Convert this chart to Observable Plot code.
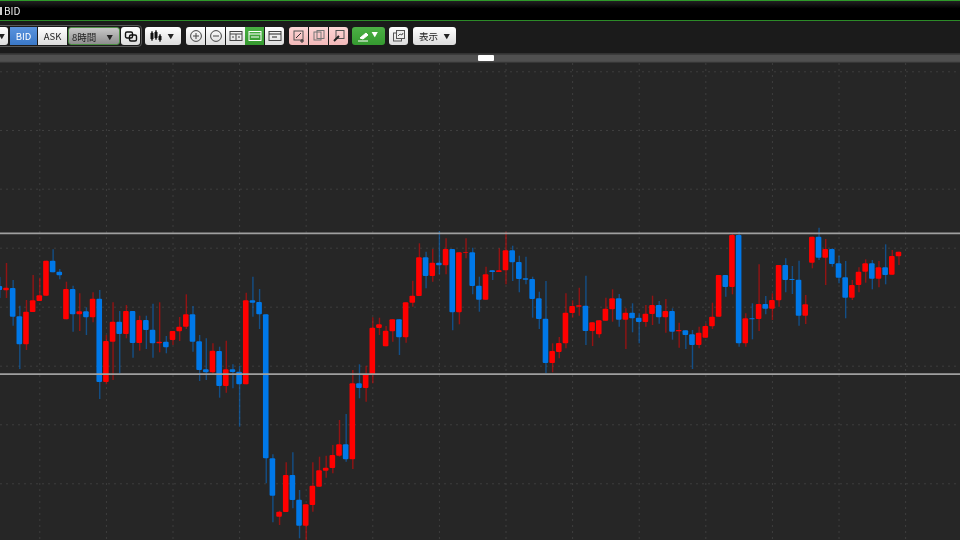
<!DOCTYPE html>
<html><head><meta charset="utf-8">
<script src="https://cdn.jsdelivr.net/npm/d3@7"></script>
<script src="https://cdn.jsdelivr.net/npm/@observablehq/plot@0.6"></script>
<style>
html,body{margin:0;padding:0;background:#262626;width:960px;height:540px;overflow:hidden;font-family:"Noto Sans CJK JP","Noto Sans",sans-serif}
#head{position:relative;width:960px;height:63px;background:#1b1b1b;overflow:hidden;filter:blur(.35px)}
#title{position:absolute;left:0;top:0;width:960px;height:19px;border-top:1px solid #2f9a2a;border-bottom:1px solid #2c8a28;box-sizing:content-box;background:linear-gradient(#222,#000 40%,#000);color:#eee;font-size:10px;line-height:19px}
#title span{position:absolute;left:4px;top:0}
#title i{position:absolute;left:0;top:6px;width:2px;height:8px;background:#ccc}
#strip{position:absolute;left:0;top:53px;width:960px;height:10px;background:linear-gradient(#333,#333 12%,#505050 22%,#505050 82%,#2c2c2c)}
#handle{position:absolute;left:478px;top:2px;width:16px;height:6px;background:#fff;border-radius:1px}
#outer{position:absolute;left:-10px;top:25px;width:152px;height:22px;border:1px solid #5a5a5a;border-radius:4px;box-sizing:border-box}
.b{position:absolute;top:27px;height:18px;box-sizing:border-box;background:linear-gradient(#fff,#dcdcdc);color:#222;font-size:9.5px;line-height:18px;text-align:center;border-radius:3px;white-space:nowrap}
.b>svg{position:absolute;left:50%;top:50%;transform:translate(-50%,-50%)}
.ico{position:absolute;top:2px;width:14px;height:14px;display:block}
.c{font-size:6.5px;position:absolute;top:0}
#chart{position:absolute;left:0;top:63px;display:block;filter:blur(.3px)}
#chart svg{display:block}
</style></head><body>
<div id="head">
  <div id="title"><i></i><span>BID</span></div>
  <div id="outer"></div>
  <div id="bar"></div>
  <div id="strip"><div id="handle"></div></div>
</div>
<div id="chart"></div>
<script>
// Price levels (height above the bottom edge of the chart), oldest bar first.
const open = [254,249.7,252,223.7,195.7,228,239,244.3,279.3,268.3,220.7,251,225.7,228.7,222.7,241.3,158,198.3,218.3,206,229,197,220,210.3,196.7,198.3,200,208.7,213.3,225.7,198.7,170.7,167.7,189,154,170.7,168.3,155.7,239.7,238,225.7,81.7,23.3,28,65,40.3,14.3,35,53.3,69.3,72,84.3,95.7,80.7,156.7,152,165.7,212,193.7,208.7,220.7,202.7,237.3,244,282.7,264,277.3,274.7,291,227.7,287.3,287.7,254.3,240.3,269.7,268,269.7,289.7,278,261.7,261,241.7,221.3,177,188,196.7,227,233.3,234.3,209,205.7,219.3,230.7,241.7,220.3,227.3,222.3,218,226,235,222.7,229,208.7,209.7,205.7,195,202.3,213.7,223.3,265,253,305,196.7,221.7,221,236,231.3,239.7,275,261,260.3,224.3,277.3,303.3,282.3,291,276.7,262.7,242.3,255,268.3,276.7,261.3,272.7,265.3,283.7];
const close = [250,252.3,223.3,195.7,228.3,239.7,244.7,279.3,267.7,264.7,251,225.7,228.7,222.7,241.3,158,199,218.3,206,229,197,220,210,196.7,198.3,192.7,209,213.3,225.7,198.3,170,167.7,189.3,154,170.7,168,155.7,239.7,237.3,225.7,81.7,44.3,28.3,65,40,14.3,35.7,54.3,69.7,72.3,85,95.7,80.7,156.7,152,165.7,212.3,215.7,209.3,220.7,202.7,237.7,244.3,282.7,264,277.3,274.7,291,227.7,287.7,288,254,240.3,265.7,268,269.7,289.7,277.7,261,260.3,241,221,177,189,197,227.3,234,234.7,209,217.7,219.7,231.3,241.7,220.3,227.3,221.7,218,226.3,235,222.7,229,208.3,210,205,195,207.3,214,223.3,265,253,305,196.7,221.7,220.7,236,231.3,240,275,260,260,224.3,235.7,303.3,282.3,291,276,262.3,242.3,255,268.3,276.7,261.3,272.7,265,284,288.3];
const high = [263,277,260,234.3,240,265,262.3,279.3,290.7,271,258.3,254.3,246.7,232.7,247.7,250,205,237.7,229,235,229,224.3,224.3,236.3,237.7,204,209,223,245.7,234,205,201.7,196.7,193.3,199.3,175.7,174.3,247.3,263.3,251,225.7,85.7,29.3,77.7,87.7,50,35.7,77.7,83.3,84.3,95,120,126,170,175.7,174.3,222.7,222.3,214,220.7,220.7,237.7,259.3,296.7,288.3,291,309,301.7,291,287.7,301.7,292.3,263.3,273.3,269.7,291.7,308.3,294.3,284.3,283.3,263.3,248.3,259,196.7,203,246.7,239.7,252.3,264.3,217.7,219.7,242.3,250.7,246,231.7,236.7,226.7,235,244.3,239,241,231.7,217.3,209.7,210,213.3,216.7,237.3,265,265,306.7,308.3,226.7,236.7,275.7,244,246.7,275,281.7,274,279.3,245,303.3,312.3,301,291.7,284.3,279,260,272.7,280.7,280,279,295.7,290,288.3];
const low = [242,242,214.3,171,190,228,239,244.3,267.7,260.7,220.7,208.3,209,205,217.7,141,155.7,160,166.7,201.7,182.3,189.3,191,182.3,187.7,186.7,195,199,211,188.3,159,160,165,142.3,147.3,151.7,113.3,155.7,223.3,211,56.7,17.7,15,28,31.7,1.7,0,28.3,53.3,62.3,66.7,83.3,78.3,71,141.7,138.3,156.7,205,193.7,198.3,185,197.3,233.3,244,251.7,258.3,265.7,265.7,209.7,215.7,281.7,245.7,228.3,240.3,260,268,255.7,259,247.7,255.7,222.3,211,166.7,167.7,181.7,191.7,222.3,224.3,195,194,202.3,219.3,218.3,213.3,191,207.7,196.7,213.3,215,216.3,207.3,200.3,192.3,191,171,191.7,202.3,211,223.3,243.3,245.7,193.3,193.3,200.7,209,225.7,220,233.3,247.7,246,214.3,216,271.7,280,255,273.3,256.7,221.7,240,247.7,257.3,250.7,252.7,255.7,265.3,275];
const levelLines = [307.2, 166.3];
const gridLevels = [468.7, 410, 351.3, 292.3, 233.3, 174.3, 115.7, 56.7];
const gridBars = [6,16,26,36,46,56,66,76,86,96,106,116,126,136];

const bars = d3.range(open.length).map(i => ({i, open: open[i], close: close[i], high: high[i], low: low[i], up: close[i] > open[i]}));
const RED = "#ff0000", BLUE = "#0078e8";
const colorOf = d => d.up ? RED : BLUE;

const chart = Plot.plot({
  width: 960, height: 477,
  margin: 0,
  style: {background: "#262626"},
  x: {domain: [0.1, 144.24], range: [0, 960], axis: null},
  y: {domain: [0, 477], range: [477, 0], axis: null},
  marks: [
    Plot.ruleX(gridBars, {x: d => d, stroke: "#3e3e3e", strokeWidth: 1, strokeDasharray: "2,4"}),
    Plot.ruleY(gridLevels, {y: d => d, stroke: "#3e3e3e", strokeWidth: 1, strokeDasharray: "2,4"}),
    Plot.ruleX(bars, {x: "i", y1: "low", y2: "high", stroke: colorOf, strokeOpacity: 0.5, strokeWidth: 1.4}),
    Plot.rect(bars, {x1: d => d.i - 0.42, x2: d => d.i + 0.42, y1: "open", y2: "close", fill: colorOf, rx: 1}),
    Plot.ruleY(levelLines, {y: d => d, stroke: "#a0a0a0", strokeWidth: 1.8})
  ]
});
document.getElementById("chart").appendChild(chart);

// Toolbar
const ic = (w, inner) => `<svg width="${w}" height="14" viewBox="0 0 ${w} 14" fill="none" stroke="#444" stroke-width="1">${inner}</svg>`;
const candles = `<path d="M3 2v10M7 1v10M11 5v8" stroke="#111"/><path d="M2 4h2v6H2zM6 3h2v6H6zM10 7h2v4h-2z" fill="#111" stroke="#111"/>`;
const grad = "linear-gradient(#fff,#dcdcdc)";
const pink = "linear-gradient(#fdd6d6,#f3b9b9)";
const tools = [
  {x:-14,w:22,t:'<span class="c" style="right:3px">▼</span>'},
  {x:10,w:27,t:"BID",bg:"linear-gradient(#5a94de,#3a78c8)",fg:"#fff",r:"0"},
  {x:38,w:29,t:"ASK",r:"0"},
  {x:68,w:52,t:'<span style="position:absolute;left:3px">8時間</span><span class="c" style="right:6px">▼</span>',bg:"linear-gradient(#c8c8c8,#8e8e8e)",fg:"#222",bd:"1px solid #4d8f45"},
  {x:121,w:19,t:ic(14,'<rect x="1.5" y="3" width="7" height="6" rx="1.5" stroke="#111" stroke-width="1.4"/><rect x="5.5" y="6" width="7" height="6" rx="1.5" stroke="#111" stroke-width="1.4"/>')},
  {x:145,w:36,t:`<span class="ico" style="left:4px">${ic(14,candles)}</span><span class="c" style="right:7px">▼</span>`},
  {x:186,w:19,t:ic(14,'<circle cx="7" cy="7" r="5.4"/><path d="M4 7h6M7 4v6"/>'),r:"3px 0 0 3px"},
  {x:206,w:19,t:ic(14,'<circle cx="7" cy="7" r="5.4"/><path d="M4 7h6"/>'),r:"0"},
  {x:226,w:19,t:ic(14,'<rect x="1" y="2.5" width="12" height="9"/><path d="M1 5h12M7 5v6.5M3 8h2M9 8h2"/>'),r:"0"},
  {x:245,w:19,t:ic(14,'<rect x="1" y="2.5" width="12" height="9" stroke="#fff"/><path d="M1 5h12M3 8h8" stroke="#fff"/>'),bg:"linear-gradient(#49b043,#35992f)",r:"0"},
  {x:265,w:19,t:ic(14,'<rect x="1" y="2.5" width="12" height="9"/><path d="M1 5h12M4 8h5" stroke="#222"/>'),r:"0 3px 3px 0"},
  {x:289,w:19,t:ic(14,'<rect x="2" y="2" width="9" height="9" stroke="#555"/><path d="M4 9l5-5M10 10v4M8 12h4" stroke="#333"/>'),bg:pink,r:"3px 0 0 3px"},
  {x:309,w:19,t:ic(14,'<rect x="2" y="3" width="7" height="8" stroke="#777"/><rect x="5" y="1.5" width="7" height="8" stroke="#777"/>'),bg:pink,r:"0"},
  {x:329,w:19,t:ic(14,'<rect x="4" y="1.5" width="8" height="8" stroke="#555"/><path d="M2 12l5-5" stroke="#222" stroke-width="2"/>'),bg:pink,r:"0 3px 3px 0"},
  {x:352,w:33,t:`<span class="ico" style="left:5px">${ic(14,'<path d="M3 9l6-5 2 2-5 4z" fill="#fff" stroke="#fff"/><path d="M1 12h10" stroke="#fff"/>')}</span><span class="c" style="right:7px;color:#fff;top:-2px">▼</span>`,bg:"linear-gradient(#4cb045,#359a30)"},
  {x:389,w:19,t:ic(14,'<rect x="1.5" y="4" width="8" height="8" stroke="#555"/><rect x="4.5" y="1.5" width="8" height="8" stroke="#555" fill="#eee"/><path d="M6 7l2-2 2 1 1-2" stroke="#555"/>')},
  {x:413,w:43,t:'<span style="position:absolute;left:6px">表示</span><span class="c" style="right:6px;top:0">▼</span>'}
];
const bar = document.getElementById("bar");
tools.forEach(t => {
  const el = document.createElement("div");
  el.className = "b";
  el.style.left = t.x + "px";
  el.style.width = t.w + "px";
  el.style.background = t.bg || grad;
  if (t.fg) el.style.color = t.fg;
  if (t.r) el.style.borderRadius = t.r;
  if (t.bd) el.style.border = t.bd;
  el.innerHTML = t.t;
  bar.appendChild(el);
});
</script>
</body></html>
